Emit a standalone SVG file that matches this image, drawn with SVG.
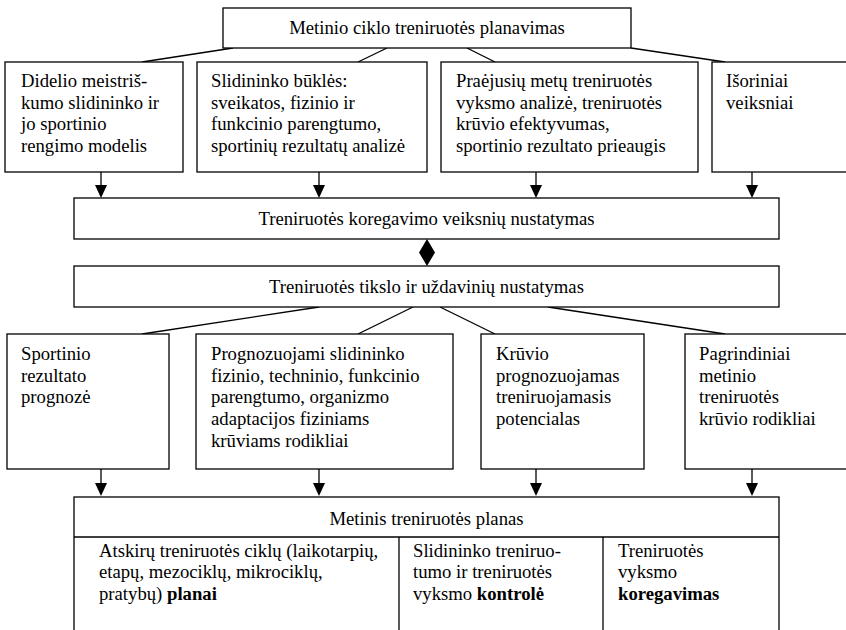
<svg xmlns="http://www.w3.org/2000/svg" width="846" height="630" viewBox="0 0 846 630" font-family="'Liberation Serif', 'Times New Roman', 'DejaVu Serif', serif">
  <style>
    .box { fill: #fff; stroke: #000; stroke-width: 1.3; }
    .ln { fill: none; stroke: #000; stroke-width: 1.3; }
    text { font-family: 'Liberation Serif', 'Times New Roman', 'DejaVu Serif', serif; font-size: 18.7px; fill: #000; }
    .c { text-anchor: middle; }
    .b { font-weight: bold; }
  </style>

  <!-- connectors -->
  <g id="connectors">
    <!-- top box to first row -->
    <line class="ln" x1="233" y1="48" x2="142" y2="62"/>
    <line class="ln" x1="387" y1="48" x2="358" y2="62"/>
    <line class="ln" x1="467" y1="48" x2="495" y2="62"/>
    <line class="ln" x1="631" y1="48" x2="725" y2="62"/>
    <!-- first row down to correction box -->
    <line class="ln" x1="101" y1="172" x2="101" y2="186"/>
    <polygon points="95,185 107,185 101,198" fill="#000"/>
    <line class="ln" x1="319" y1="172" x2="319" y2="186"/>
    <polygon points="313,185 325,185 319,198" fill="#000"/>
    <line class="ln" x1="536" y1="172" x2="536" y2="186"/>
    <polygon points="530,185 542,185 536,198" fill="#000"/>
    <line class="ln" x1="752" y1="172" x2="752" y2="186"/>
    <polygon points="746,185 758,185 752,198" fill="#000"/>
    <!-- two-way link between the middle boxes -->
    <polygon points="427,239 435,252.5 427,266 419,252.5" fill="#000"/>
    <!-- goal box to second row -->
    <line class="ln" x1="319" y1="307" x2="142" y2="334"/>
    <line class="ln" x1="413" y1="307" x2="358" y2="334"/>
    <line class="ln" x1="440" y1="307" x2="495" y2="334"/>
    <line class="ln" x1="548" y1="307" x2="725" y2="334"/>
    <!-- second row down to the annual plan -->
    <line class="ln" x1="101" y1="469" x2="101" y2="484"/>
    <polygon points="95,483 107,483 101,496" fill="#000"/>
    <line class="ln" x1="319" y1="469" x2="319" y2="484"/>
    <polygon points="313,483 325,483 319,496" fill="#000"/>
    <line class="ln" x1="536" y1="469" x2="536" y2="484"/>
    <polygon points="530,483 542,483 536,496" fill="#000"/>
    <line class="ln" x1="752" y1="469" x2="752" y2="484"/>
    <polygon points="746,483 758,483 752,496" fill="#000"/>
  </g>

  <g id="planning">
    <rect class="box" x="223" y="8" width="408" height="40"/>
    <text class="c" x="427" y="34">Metinio ciklo treniruotės planavimas</text>
  </g>

  <g id="model">
    <rect class="box" x="5" y="62" width="178" height="110"/>
    <text x="21" y="87">Didelio meistriš-</text>
    <text x="21" y="108.7">kumo slidininko ir</text>
    <text x="21" y="130.4">jo sportinio</text>
    <text x="21" y="152.1">rengimo modelis</text>
  </g>

  <g id="condition">
    <rect class="box" x="197" y="62" width="230" height="110"/>
    <text x="211" y="87">Slidininko būklės:</text>
    <text x="211" y="108.7">sveikatos, fizinio ir</text>
    <text x="211" y="130.4">funkcinio parengtumo,</text>
    <text x="211" y="152.1">sportinių rezultatų analizė</text>
  </g>

  <g id="previous">
    <rect class="box" x="441" y="62" width="257" height="110"/>
    <text x="456" y="87">Praėjusių metų treniruotės</text>
    <text x="456" y="108.7">vyksmo analizė, treniruotės</text>
    <text x="456" y="130.4">krūvio efektyvumas,</text>
    <text x="456" y="152.1">sportinio rezultato prieaugis</text>
  </g>

  <g id="external">
    <rect class="box" x="712" y="62" width="150" height="110"/>
    <text x="726" y="87">Išoriniai</text>
    <text x="726" y="108.7">veiksniai</text>
  </g>

  <g id="correction">
    <rect class="box" x="74" y="198" width="705" height="41"/>
    <text class="c" x="426.5" y="225">Treniruotės koregavimo veiksnių nustatymas</text>
  </g>

  <g id="goals">
    <rect class="box" x="74" y="266" width="705" height="41"/>
    <text class="c" x="426.5" y="293">Treniruotės tikslo ir uždavinių nustatymas</text>
  </g>

  <g id="forecast">
    <rect class="box" x="7" y="334" width="162" height="135"/>
    <text x="21" y="360">Sportinio</text>
    <text x="21" y="381.7">rezultato</text>
    <text x="21" y="403.4">prognozė</text>
  </g>

  <g id="indicators">
    <rect class="box" x="196" y="334" width="257" height="135"/>
    <text x="211" y="360">Prognozuojami slidininko</text>
    <text x="211" y="381.7">fizinio, techninio, funkcinio</text>
    <text x="211" y="403.4">parengtumo, organizmo</text>
    <text x="211" y="425.1">adaptacijos fiziniams</text>
    <text x="211" y="446.8">krūviams rodikliai</text>
  </g>

  <g id="potential">
    <rect class="box" x="481" y="334" width="163" height="135"/>
    <text x="496" y="360">Krūvio</text>
    <text x="496" y="381.7">prognozuojamas</text>
    <text x="496" y="403.4">treniruojamasis</text>
    <text x="496" y="425.1">potencialas</text>
  </g>

  <g id="load">
    <rect class="box" x="685" y="334" width="180" height="135"/>
    <text x="699" y="360">Pagrindiniai</text>
    <text x="699" y="381.7">metinio</text>
    <text x="699" y="403.4">treniruotės</text>
    <text x="699" y="425.1">krūvio rodikliai</text>
  </g>

  <g id="annual-plan">
    <rect class="box" x="74" y="497" width="705" height="150"/>
    <line class="ln" x1="74" y1="537" x2="779" y2="537"/>
    <line class="ln" x1="399" y1="537" x2="399" y2="640"/>
    <line class="ln" x1="603" y1="537" x2="603" y2="640"/>
    <text class="c" x="426.5" y="525">Metinis treniruotės planas</text>
    <text x="99" y="556.7">Atskirų treniruotės ciklų (laikotarpių,</text>
    <text x="99" y="578.4">etapų, mezociklų, mikrociklų,</text>
    <text x="99" y="600.1">pratybų) <tspan class="b">planai</tspan></text>
    <text x="413" y="556.7">Slidininko treniruo-</text>
    <text x="413" y="578.4">tumo ir treniruotės</text>
    <text x="413" y="600.1">vyksmo <tspan class="b">kontrolė</tspan></text>
    <text x="618" y="556.7">Treniruotės</text>
    <text x="618" y="578.4">vyksmo</text>
    <text x="618" y="600.1" class="b">koregavimas</text>
  </g>
</svg>
